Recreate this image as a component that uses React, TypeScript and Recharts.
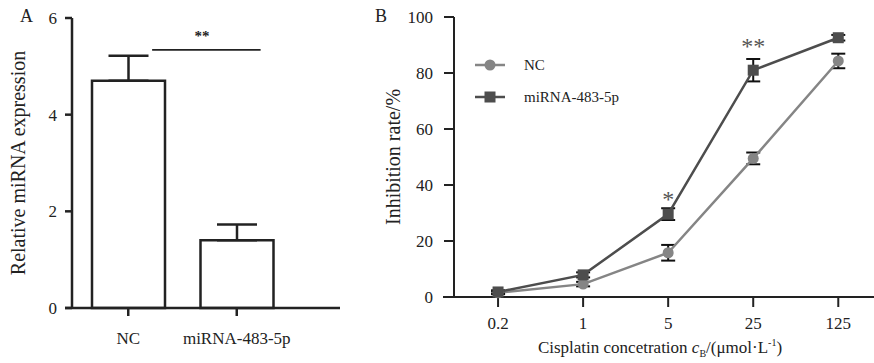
import * as RC from 'recharts'

const { BarChart, Bar, ComposedChart, Line, XAxis, YAxis, ErrorBar, ReferenceLine, ReferenceDot } = RC as any

const FONT = '"Liberation Serif", "Times New Roman", serif'
const INK = '#222'

// panel A
const groups = ['NC', 'miRNA-483-5p']
const expression = [4.7, 1.4]
const expressionErr = [0.52, 0.33]
const bracketX = [0.36, 0.86]
const bracketY = 5.34
const bracketStarY = 5.66

// panel B
const doses = ['0.2', '1', '5', '25', '125']
const ncRate = [1.5, 4.6, 15.8, 49.5, 84.3]
const ncErr = [0.5, 0.8, 2.8, 2.1, 2.6]
const mirRate = [1.8, 7.9, 29.6, 81, 92.6]
const mirErr = [0.6, 0.9, 2.1, 4, 1]
const mirSig = ['', '', '*', '**', '']
const mirSigY = [0, 0, 36, 90.5, 0]

const NC_COLOR = '#858585'
const MIR_COLOR = '#4d4d4d'

const barData = groups.map((g, i) => ({ name: g, value: expression[i], err: [0, expressionErr[i]] }))
const lineData = doses.map((d, i) => ({
  idx: i,
  dose: d,
  nc: ncRate[i],
  ncErr: ncErr[i],
  mir: mirRate[i],
  mirErr: mirErr[i],
}))

function AxisStub({ len, width }: { len: number; width: number }) {
  const hook = (RC as any).usePlotArea
  const area = hook ? hook() : undefined
  if (!area) return null
  const y = area.y + area.height
  return <line x1={area.x - len} x2={area.x} y1={y} y2={y} stroke={INK} strokeWidth={width} />
}

function YTitle({ viewBox, text, tx }: any) {
  const cy = viewBox.y + viewBox.height / 2
  return (
    <text x={tx} y={cy} transform={`rotate(-90 ${tx} ${cy})`} textAnchor="middle" dominantBaseline="central"
      fontFamily={FONT} fontSize={20} fill={INK}>
      {text}
    </text>
  )
}

function XTitle({ viewBox }: any) {
  const cx = viewBox.x + viewBox.width / 2 - 4
  return (
    <text x={cx} y={viewBox.y + 56} textAnchor="middle" fontFamily={FONT} fontSize={17} fill={INK}>
      Cisplatin concetration <tspan fontStyle="italic">c</tspan>
      <tspan dy={4} fontSize={10}>B</tspan>
      <tspan dy={-4}>/(μmol·L</tspan>
      <tspan dy={-7} fontSize={10}>-1</tspan>
      <tspan dy={7}>)</tspan>
    </text>
  )
}

const Square = (props: any) => {
  const { cx, cy } = props
  if (cx == null || cy == null) return null
  return <rect x={cx - 5.5} y={cy - 5.5} width={11} height={11} fill={MIR_COLOR} />
}

const Star = ({ text, size, color, bold }: any) => (props: any) => (
  <text x={props.cx} y={props.cy} dy={size * 0.45} textAnchor="middle" fontFamily={FONT}
    fontSize={size} fill={color} fontWeight={bold ? 700 : 400}>
    {text}
  </text>
)

function LegendBox() {
  const rows = [
    { name: 'NC', color: NC_COLOR, square: false },
    { name: 'miRNA-483-5p', color: MIR_COLOR, square: true },
  ]
  return (
    <div style={{ fontFamily: FONT, fontSize: 15, color: INK }}>
      {rows.map(r => (
        <div key={r.name} style={{ display: 'flex', alignItems: 'center', height: 32 }}>
          <svg width={30} height={14} style={{ display: 'block' }}>
            <line x1={0} x2={30} y1={7} y2={7} stroke={r.color} strokeWidth={2.5} />
            {r.square
              ? <rect x={9.5} y={1.5} width={11} height={11} fill={r.color} />
              : <circle cx={15} cy={7} r={5.5} fill={r.color} />}
          </svg>
          <span style={{ marginLeft: 19 }}>{r.name}</span>
        </div>
      ))}
    </div>
  )
}

const tickStyle = { fill: INK, fontSize: 17, fontFamily: FONT }
const axisLine = { stroke: INK, strokeWidth: 2.5 }
const tickLine = { stroke: INK, strokeWidth: 2.5 }

export default function App() {
  return (
    <div style={{ position: 'absolute', left: 0, top: 0, width: 874, height: 363, background: '#fff', fontFamily: FONT }}>
      <div style={{ position: 'absolute', left: 20, top: 6, fontSize: 18, color: INK }}>A</div>
      <div style={{ position: 'absolute', left: 375, top: 6, fontSize: 18, color: INK }}>B</div>

      <div style={{ position: 'absolute', left: 0, top: 0 }}>
        <BarChart width={345} height={363} data={barData} margin={{ top: 18, right: 5, bottom: 15, left: 0 }}>
          <XAxis dataKey="name" height={40} tick={tickStyle} tickSize={8} tickMargin={16}
            axisLine={axisLine} tickLine={tickLine} padding={{ left: 2, right: 49 }} />
          <XAxis xAxisId="ann" type="number" domain={[0, 1]} hide padding={{ left: 2, right: 49 }} />
          <YAxis width={72} domain={[0, 6]} ticks={[0, 2, 4, 6]} tick={tickStyle} tickSize={7} tickMargin={8}
            axisLine={axisLine} tickLine={tickLine}
            label={<YTitle text="Relative miRNA expression" tx={18} />} />
          <Bar dataKey="value" barSize={73} fill="#fff" stroke={INK} strokeWidth={2.5} isAnimationActive={false}>
            <ErrorBar dataKey="err" width={20} stroke={INK} strokeWidth={2.5} direction="y" />
          </Bar>
          <ReferenceLine xAxisId="ann" segment={[{ x: bracketX[0], y: bracketY }, { x: bracketX[1], y: bracketY }]}
            stroke={INK} strokeWidth={1.8} />
          <ReferenceDot xAxisId="ann" x={(bracketX[0] + bracketX[1]) / 2 - 0.02} y={bracketStarY}
            shape={Star({ text: '**', size: 15, color: INK, bold: true })} />
          <AxisStub len={7} width={2.5} />
        </BarChart>
      </div>

      <div style={{ position: 'absolute', left: 380, top: 0 }}>
        <ComposedChart width={494} height={363} data={lineData} margin={{ top: 17, right: 0, bottom: 6, left: 0 }}>
          <XAxis dataKey="idx" type="number" domain={[-0.518, 4.42]} ticks={[0, 1, 2, 3, 4]}
            tickFormatter={(v: number) => doses[v]} height={60} tick={tickStyle} tickSize={10} tickMargin={10}
            axisLine={{ stroke: INK, strokeWidth: 2 }} tickLine={{ stroke: INK, strokeWidth: 2 }}
            label={<XTitle />} />
          <YAxis width={74} domain={[0, 100]} ticks={[0, 20, 40, 60, 80, 100]} tick={tickStyle} tickSize={10} tickMargin={11}
            axisLine={{ stroke: INK, strokeWidth: 2 }} tickLine={{ stroke: INK, strokeWidth: 2 }}
            label={<YTitle text="Inhibition rate/%" tx={13} />} />
          <Line dataKey="nc" name="NC" stroke={NC_COLOR} strokeWidth={2.5} isAnimationActive={false}
            dot={{ r: 5.5, fill: NC_COLOR, stroke: 'none' }} activeDot={false}>
            <ErrorBar dataKey="ncErr" width={7} stroke="#111" strokeWidth={2} direction="y" />
          </Line>
          <Line dataKey="mir" name="miRNA-483-5p" stroke={MIR_COLOR} strokeWidth={2.5} isAnimationActive={false}
            dot={<Square />} activeDot={false}>
            <ErrorBar dataKey="mirErr" width={7} stroke="#111" strokeWidth={2} direction="y" />
          </Line>
          {mirSig.map((s, i) => s ? (
            <ReferenceDot key={i} x={i} y={mirSigY[i]} shape={Star({ text: s, size: 24, color: '#555' })} />
          ) : null)}
          <AxisStub len={11} width={2} />
        </ComposedChart>
        <div style={{ position: 'absolute', left: 95, top: 49 }}>
          <LegendBox />
        </div>
      </div>
    </div>
  )
}
